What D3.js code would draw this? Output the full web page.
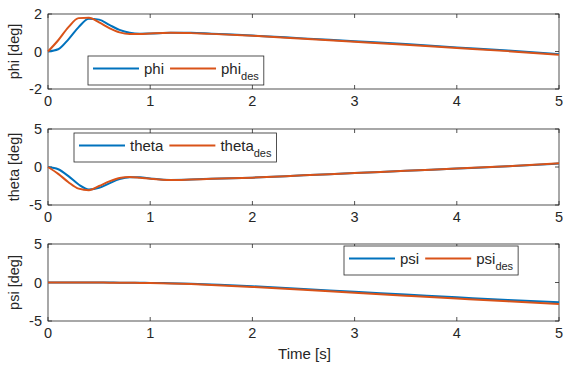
<!DOCTYPE html>
<html>
<head>
<meta charset="utf-8">
<script src="https://cdn.jsdelivr.net/npm/d3@7"></script>
<style>
  body { margin: 0; background: #fff; }
  svg text { font-family: "Liberation Sans", Arial, sans-serif; fill: #262626; }
</style>
</head>
<body>
<svg id="chart" width="564" height="373"></svg>
<script>
const time = [0, 0.1, 0.2, 0.3, 0.4, 0.5, 0.6, 0.7, 0.8, 0.9, 1.0, 1.2, 1.4, 1.6, 2, 2.5, 3, 3.5, 4, 4.5, 5];

const phi      = [0, 0.12, 0.65, 1.3, 1.75, 1.7, 1.42, 1.15, 1.0, 0.95, 0.96, 1.0, 1.0, 0.95, 0.85, 0.7, 0.55, 0.4, 0.22, 0.05, -0.14];
const phiDes   = [0, 0.6, 1.3, 1.78, 1.8, 1.55, 1.25, 1.02, 0.93, 0.93, 0.96, 1.0, 0.98, 0.94, 0.84, 0.68, 0.52, 0.36, 0.19, 0.02, -0.18];

const theta    = [0, -0.3, -1.2, -2.3, -2.95, -2.75, -2.15, -1.6, -1.35, -1.35, -1.5, -1.7, -1.65, -1.55, -1.4, -1.1, -0.8, -0.5, -0.2, 0.1, 0.45];
const thetaDes = [0, -0.9, -2.0, -2.85, -3.05, -2.5, -1.9, -1.45, -1.3, -1.4, -1.55, -1.72, -1.65, -1.55, -1.4, -1.1, -0.8, -0.5, -0.2, 0.1, 0.5];

const psi      = [0, 0, 0, 0, 0, -0.01, -0.01, -0.02, -0.03, -0.04, -0.05, -0.1, -0.16, -0.26, -0.48, -0.84, -1.2, -1.56, -1.92, -2.27, -2.55];
const psiDes   = [0, 0, 0, 0, -0.01, -0.01, -0.02, -0.03, -0.04, -0.05, -0.07, -0.12, -0.2, -0.31, -0.57, -0.95, -1.33, -1.71, -2.08, -2.44, -2.78];

const xTicks = [0, 1, 2, 3, 4, 5];

const panels = [
  {label: "phi [deg]",   name: "phi",   actual: phi,   desired: phiDes,   domain: [-2, 2], ticks: [-2, 0, 2], top: 14,  bottom: 89,  legend: {x: 88,  y: 56}},
  {label: "theta [deg]", name: "theta", actual: theta, desired: thetaDes, domain: [-5, 5], ticks: [-5, 0, 5], top: 129, bottom: 205, legend: {x: 74,  y: 133}},
  {label: "psi [deg]",   name: "psi",   actual: psi,   desired: psiDes,   domain: [-5, 5], ticks: [-5, 0, 5], top: 244, bottom: 321, legend: {x: 344, y: 246}}
];

const blue = '#0072BD';
const orange = '#D95319';
const axisColor = '#262626';

const svg = d3.select('#chart');
const left = 48, right = 559;

const xScale = d3.scaleLinear().domain([0, 5]).range([left, right]);

panels.forEach(p => {
  const yScale = d3.scaleLinear().domain(p.domain).range([p.bottom, p.top]);
  const g = svg.append('g');

  // box
  g.append('rect')
    .attr('x', left).attr('y', p.top)
    .attr('width', right - left).attr('height', p.bottom - p.top)
    .attr('fill', '#fff').attr('stroke', axisColor).attr('stroke-width', 0.8);

  // ticks, inward on all sides
  const tl = 4;
  g.selectAll('.xt').data(xTicks).join('path')
    .attr('d', d => `M${xScale(d)},${p.bottom}v${-tl}M${xScale(d)},${p.top}v${tl}`)
    .attr('stroke', axisColor).attr('stroke-width', 0.8);
  g.selectAll('.yt').data(p.ticks).join('path')
    .attr('d', d => `M${left},${yScale(d)}h${tl}M${right},${yScale(d)}h${-tl}`)
    .attr('stroke', axisColor).attr('stroke-width', 0.8);

  g.selectAll('.xl').data(xTicks).join('text')
    .attr('x', d => xScale(d)).attr('y', p.bottom + 17)
    .attr('text-anchor', 'middle').attr('font-size', 14.5)
    .text(d => d);
  g.selectAll('.yl').data(p.ticks).join('text')
    .attr('x', left - 6).attr('y', d => yScale(d) + 5)
    .attr('text-anchor', 'end').attr('font-size', 14.5)
    .text(d => d < 0 ? '-' + Math.abs(d) : d);

  g.append('text')
    .attr('transform', `translate(19, ${(p.top + p.bottom) / 2}) rotate(-90)`)
    .attr('text-anchor', 'middle').attr('font-size', 14.5)
    .text(p.label);

  const line = d3.line()
    .x((d, i) => xScale(time[i]))
    .y(d => yScale(d))
    .curve(d3.curveMonotoneX);

  g.append('path').datum(p.actual)
    .attr('d', line).attr('fill', 'none').attr('stroke', blue).attr('stroke-width', 2);
  g.append('path').datum(p.desired)
    .attr('d', line).attr('fill', 'none').attr('stroke', orange).attr('stroke-width', 2);

  // legend
  const lg = g.append('g').attr('transform', `translate(${p.legend.x}, ${p.legend.y})`);
  const box = lg.append('rect').attr('fill', '#fff').attr('stroke', axisColor).attr('stroke-width', 0.8);
  let cx = 5;
  const midY = 12.5;
  lg.append('line').attr('x1', cx).attr('x2', cx + 46).attr('y1', midY).attr('y2', midY)
    .attr('stroke', blue).attr('stroke-width', 2);
  cx += 51;
  const t1 = lg.append('text').attr('x', cx).attr('y', midY + 5).attr('font-size', 15).text(p.name);
  cx += t1.node().getComputedTextLength() + 6;
  lg.append('line').attr('x1', cx).attr('x2', cx + 46).attr('y1', midY).attr('y2', midY)
    .attr('stroke', orange).attr('stroke-width', 2);
  cx += 51;
  const t2 = lg.append('text').attr('x', cx).attr('y', midY + 5).attr('font-size', 15);
  t2.append('tspan').text(p.name);
  t2.append('tspan').attr('font-size', 11).attr('dy', 6).text('des');
  cx += t2.node().getComputedTextLength() + 5;
  box.attr('width', cx).attr('height', 29);
});

svg.append('text')
  .attr('x', (left + right) / 2 + 1).attr('y', 359)
  .attr('text-anchor', 'middle').attr('font-size', 15)
  .text('Time [s]');
</script>
</body>
</html>
